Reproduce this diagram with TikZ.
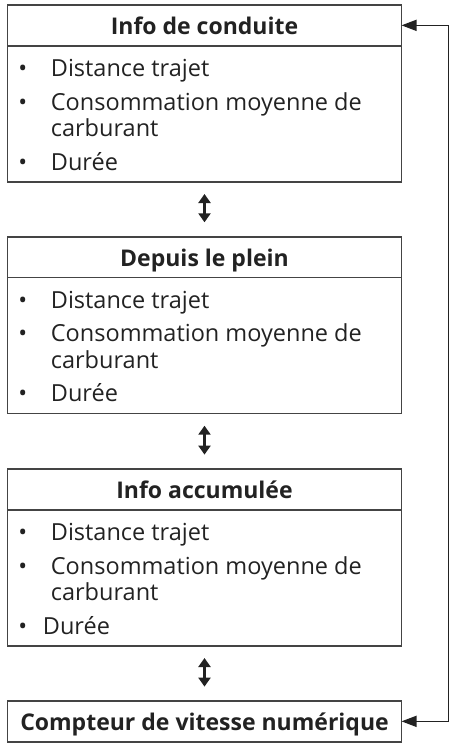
\documentclass[tikz,border=0pt]{standalone}
\usepackage{fontspec}
\setmainfont{Open Sans}
\usetikzlibrary{arrows.meta}
\definecolor{ink}{HTML}{222222}
\definecolor{frame}{HTML}{444444}
\begin{document}
\begin{tikzpicture}[x=1pt,y=-1pt,
  hdr/.style={draw=frame, line width=1.6pt, minimum width=394pt, minimum height=40.7pt,
    inner sep=0pt, outer sep=0pt, anchor=north west, text=ink,
    font=\fontsize{23}{27}\selectfont\bfseries, text height=19pt, text depth=0pt},
  bodybox/.style={draw=frame, line width=1.6pt, minimum width=394pt, minimum height=136pt,
    inner sep=0pt, outer sep=0pt, anchor=north west},
  itm/.style={anchor=base west, inner sep=0pt, text=ink, font=\fontsize{23.5}{27}\selectfont},
  bul/.style={anchor=base, inner sep=0pt, text=ink, font=\fontsize{23.5}{27}\selectfont},
  dbl/.style={{Triangle[length=9pt,width=12pt]}-{Triangle[length=9pt,width=12pt]},
    line width=2.2pt, draw=ink, shorten <=12.3pt, shorten >=14.4pt},
  side/.style={{Triangle[length=15pt,width=11pt]}-{Triangle[length=15pt,width=11pt]},
    line width=1.5pt, draw=ink}
]
\useasboundingbox (0,0) rectangle (454,745);

% box 1
\node[hdr] (h1) at (7.5,5) {Info de conduite};
\node[bodybox] (b1) at (7.5,45.7) {};
\node[bul] (b1a) at (22.7,76.7) {•};
\node[itm] (t1a) at (50.7,76.7) {Distance trajet};
\node[bul] (b1b) at (22.7,110) {•};
\node[itm] (t1b) at (50.7,110) {Consommation moyenne de};
\node[itm] (t1c) at (50.7,136.7) {carburant};
\node[bul] (b1d) at (22.7,170) {•};
\node[itm] (t1d) at (50.7,170) {Durée};

% box 2
\node[hdr] (h2) at (7.5,236.7) {Depuis le plein};
\node[bodybox] (b2) at (7.5,277.4) {};
\node[bul] (b2a) at (22.7,308.4) {•};
\node[itm] (t2a) at (50.7,308.4) {Distance trajet};
\node[bul] (b2b) at (22.7,341.7) {•};
\node[itm] (t2b) at (50.7,341.7) {Consommation moyenne de};
\node[itm] (t2c) at (50.7,368.4) {carburant};
\node[bul] (b2d) at (22.7,401.7) {•};
\node[itm] (t2d) at (50.7,401.7) {Durée};

% box 3
\node[hdr] (h3) at (7.5,469) {Info accumulée};
\node[bodybox] (b3) at (7.5,509.7) {};
\node[bul] (b3a) at (22.7,540.7) {•};
\node[itm] (t3a) at (50.7,540.7) {Distance trajet};
\node[bul] (b3b) at (22.7,574) {•};
\node[itm] (t3b) at (50.7,574) {Consommation moyenne de};
\node[itm] (t3c) at (50.7,600.7) {carburant};
\node[bul] (b3d) at (22.7,634) {•};
\node[itm] (t3d) at (42.7,634) {Durée};

% box 4
\node[hdr] (h4) at (7.5,701) {Compteur de vitesse numérique};

% connectors
\draw[dbl] (b1.south) -- (h2.north);
\draw[dbl] (b2.south) -- (h3.north);
\draw[dbl] (b3.south) -- (h4.north);
\draw[side] (h1.east) -- ++(47,0) |- (h4.east);
\end{tikzpicture}
\end{document}
